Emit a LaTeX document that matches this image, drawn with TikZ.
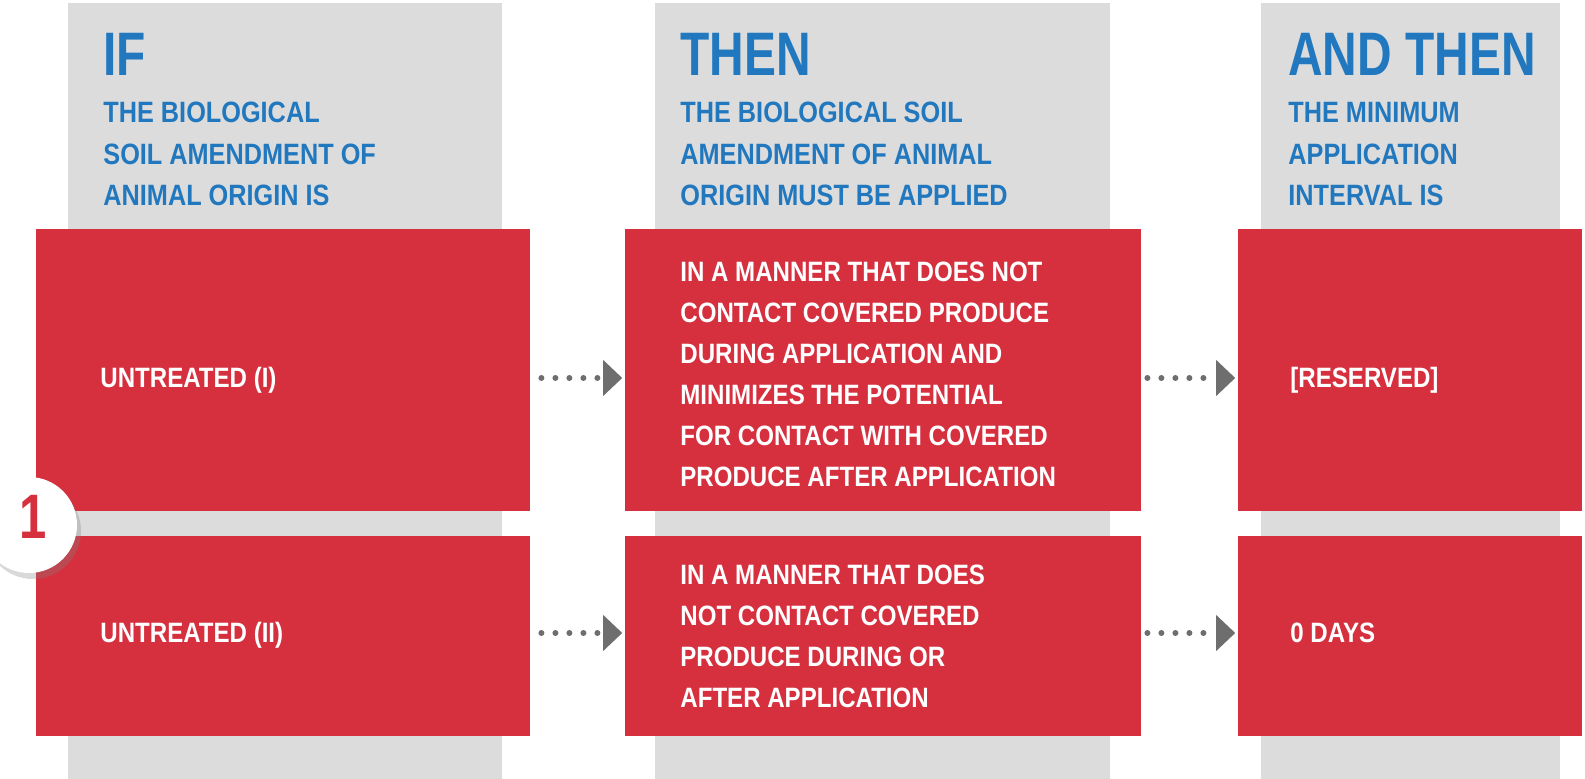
\documentclass[tikz,border=0pt]{standalone}
\usepackage{fontspec}
\setmainfont{Liberation Sans}[FakeStretch=0.86]
\newfontfamily\headfont{Liberation Sans}[FakeStretch=0.78]
\usetikzlibrary{arrows.meta,shadows}
\definecolor{boxred}{HTML}{D6303F}
\definecolor{colgrey}{HTML}{DCDCDC}
\definecolor{headblue}{HTML}{2178BE}
\definecolor{dotgrey}{HTML}{6E6E6E}
\tikzstyle{column}=[fill=colgrey]
\tikzstyle{redbox}=[rectangle,fill=boxred,inner sep=0pt]
\tikzstyle{head}=[anchor=base west,inner sep=0pt,text=headblue,font=\headfont\bfseries\fontsize{30.7}{31}\selectfont]
\tikzstyle{subhead}=[anchor=north west,inner sep=0pt,align=left,text=headblue,font=\bfseries\fontsize{14.7}{20.75}\selectfont]
\tikzstyle{cell}=[anchor=west,inner sep=0pt,text height=10pt,text depth=0pt,text=white,font=\bfseries\fontsize{14}{20.5}\selectfont]
\tikzstyle{celltext}=[anchor=north west,inner sep=0pt,align=left,text=white,font=\bfseries\fontsize{14}{20.5}\selectfont]
\tikzstyle{flow}=[draw=dotgrey,line width=3pt,line cap=round,dash pattern=on 0pt off 7pt,-{Triangle[length=9.5pt,width=18pt,line width=0pt]}]
\tikzstyle{badge}=[circle,fill=white,minimum size=48pt,inner sep=0pt,drop shadow={opacity=0.3,shadow xshift=2pt,shadow yshift=-3pt}]

\begin{document}
\begin{tikzpicture}[x=0.5pt,y=-0.5pt]
    \useasboundingbox (0,0) rectangle (1585,779);
    % Grey columns behind everything
    \foreach \xa/\xb in {68/502, 655/1110, 1261/1560}
        \fill[column] (\xa,3) rectangle (\xb,779);
    % Column headings
    \node[head] (h1) at (103,76) {IF};
    \node[head] (h2) at (680,76) {THEN};
    \node[head] (h3) at (1288,76) {AND THEN};
    \node[subhead] (s1) at (103,102) {THE BIOLOGICAL\\SOIL AMENDMENT OF\\ANIMAL ORIGIN IS};
    \node[subhead] (s2) at (680,102) {THE BIOLOGICAL SOIL\\AMENDMENT OF ANIMAL\\ORIGIN MUST BE APPLIED};
    \node[subhead] (s3) at (1288,102) {THE MINIMUM\\APPLICATION\\INTERVAL IS};
    % Red boxes, two rows
    \foreach \pos/\name/\w/\h in {(283,370)/r11/247/141, (883,370)/r12/258/141, (1410,370)/r13/172/141,
                                  (283,636)/r21/247/100, (883,636)/r22/258/100, (1410,636)/r23/172/100}
        \node[redbox,minimum width=\w pt,minimum height=\h pt] (\name) at \pos {};
    % Texts in the boxes
    \node[cell] (t11) at (100,378) {UNTREATED (I)};
    \node[celltext] (t12) at (680,262) {IN A MANNER THAT DOES NOT\\CONTACT COVERED PRODUCE\\DURING APPLICATION AND\\MINIMIZES THE POTENTIAL\\FOR CONTACT WITH COVERED\\PRODUCE AFTER APPLICATION};
    \node[cell] (t13) at (1290,378) {[RESERVED]};
    \node[cell] (t21) at (100,633) {UNTREATED (II)};
    \node[celltext] (t22) at (680,565) {IN A MANNER THAT DOES\\NOT CONTACT COVERED\\PRODUCE DURING OR\\AFTER APPLICATION};
    \node[cell] (t23) at (1290,633) {0 DAYS};
    % Dotted arrows between the boxes
    \foreach \source/\dest/\row/\gap in {r11/r12/t11/5.5, r12/r13/t11/3, r21/r22/t21/5.5, r22/r23/t21/3}
        \draw[flow,shorten <=\gap pt,shorten >=1.2pt] (\source.east |- \row.west) -- (\dest.west |- \row.west);
    % Number badge
    \node[badge] (circ) at (29,525) {};
    \node[inner sep=0pt,text=boxred,font=\headfont\bfseries\fontsize{31.4}{31}\selectfont] (num) at (33,517) {1};
\end{tikzpicture}
\end{document}
